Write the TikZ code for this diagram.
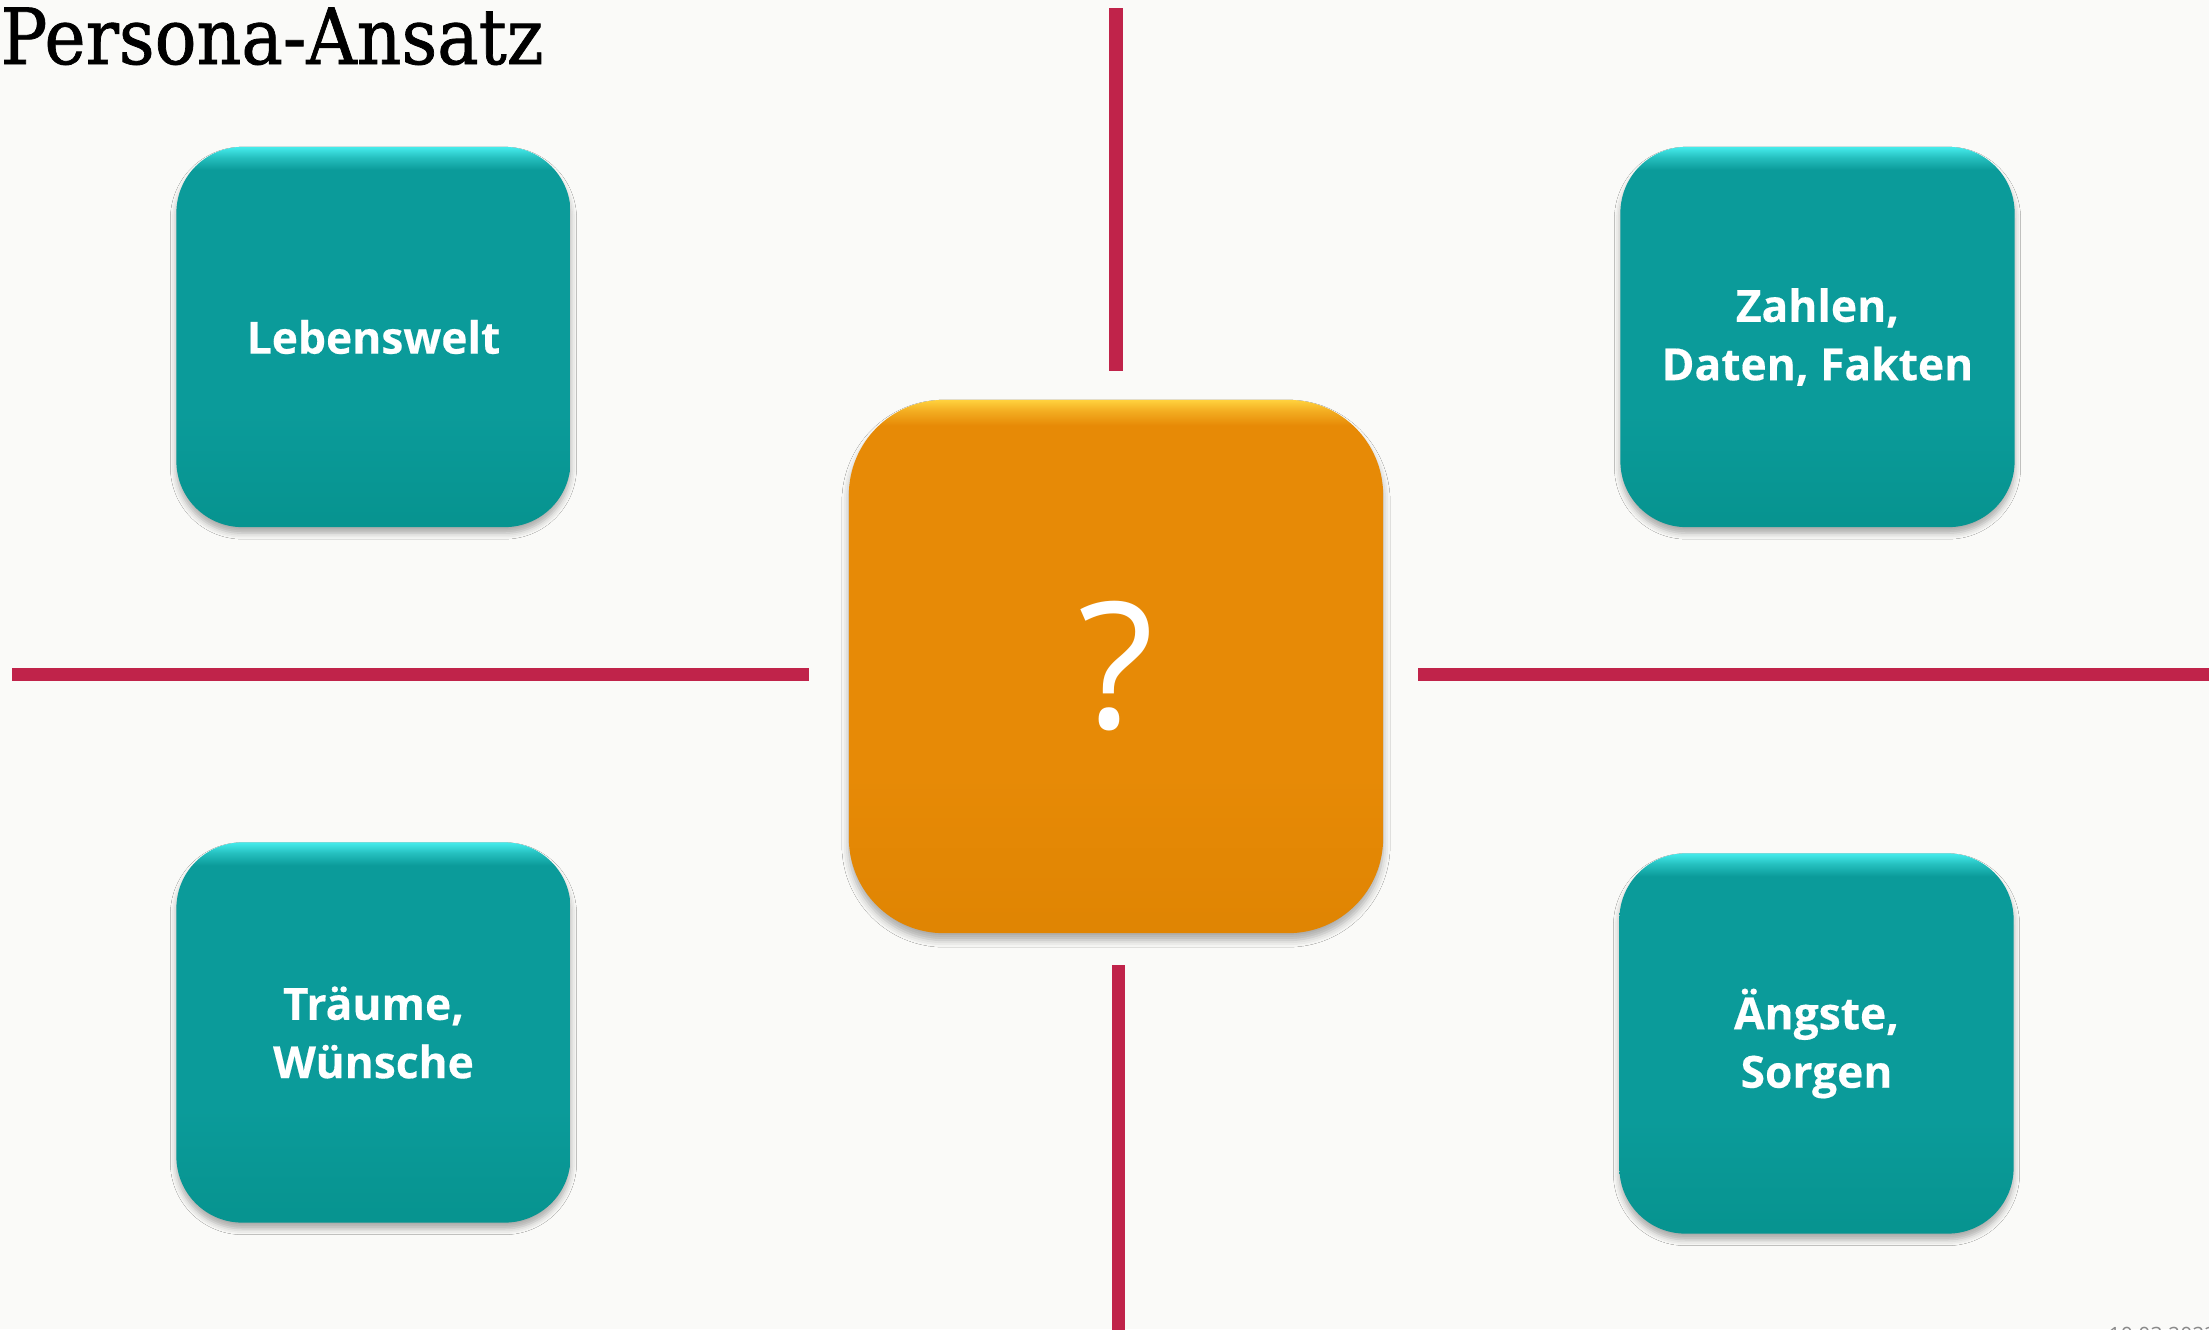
\documentclass[tikz,border=0pt]{standalone}
\usepackage{fontspec}
\setmainfont{Open Sans}[BoldFeatures={FakeBold=0.35}]
\newfontfamily\titlefont[FakeBold=1]{DejaVu Serif}
\usetikzlibrary{shadows.blur}

\definecolor{pagebg}{HTML}{FAFAF8}
\definecolor{divider}{HTML}{C0234A}
\definecolor{tealbox}{HTML}{0B9B9A}
\definecolor{tealtop}{HTML}{45ECEC}
\definecolor{tealdark}{HTML}{079490}
\definecolor{orangebox}{HTML}{E78A06}
\definecolor{orangetop}{HTML}{FFD23E}
\definecolor{orangedark}{HTML}{E08503}
\definecolor{dategray}{HTML}{8A8A8A}

% vertical fills with a bright rim along the top edge
% (the path spans 25bp to 75bp of the shading)
\pgfdeclareverticalshading{tealtile}{100bp}{%
  color(0bp)=(tealdark); color(26bp)=(tealdark); color(40bp)=(tealbox);
  color(72bp)=(tealbox); color(73.6bp)=(tealbox!55!tealtop);
  color(75bp)=(tealtop); color(100bp)=(tealtop)}
\pgfdeclareverticalshading{orangetile}{100bp}{%
  color(0bp)=(orangedark); color(26bp)=(orangedark); color(40bp)=(orangebox);
  color(72.6bp)=(orangebox); color(74bp)=(orangebox!50!orangetop);
  color(75bp)=(orangetop); color(100bp)=(orangetop)}

\tikzset{
  tile/.style={rectangle, rounded corners=0.66cm, inner sep=0pt,
    minimum width=3.94cm, minimum height=3.80cm,
    shading=tealtile,
    text=white, align=center,
    font=\bfseries\fontsize{12.6}{16.6}\selectfont,
    blur shadow={shadow xshift=0pt, shadow yshift=-0.06cm,
      shadow opacity=32, shadow blur radius=0.06cm}},
  centertile/.style={rectangle, rounded corners=0.95cm, inner sep=0pt,
    minimum width=5.34cm, minimum height=5.33cm,
    shading=orangetile,
    text=white, font=\fontsize{50}{60}\selectfont,
    blur shadow={shadow xshift=0pt, shadow yshift=-0.07cm,
      shadow opacity=32, shadow blur radius=0.07cm}},
  sepline/.style={draw=divider, line width=0.135cm}
}

\begin{document}
\begin{tikzpicture}[x=0.01cm, y=-0.01cm]
  % page background and fixed frame
  \fill[pagebg] (0,0) rectangle (2209,1329);
  \useasboundingbox (0,0) rectangle (2209,1329);

  % title
  \node[anchor=base west, inner sep=0pt, xscale=0.9,
        font=\titlefont\fontsize{22}{26}\selectfont] (title) at (0,64) {Persona-Ansatz};

  % dividing lines
  \coordinate (vt1) at (1116,8);    \coordinate (vt2) at (1116,371);
  \coordinate (vb1) at (1118.5,965); \coordinate (vb2) at (1118.5,1340);
  \coordinate (hl1) at (12,674.5);  \coordinate (hl2) at (809,674.5);
  \coordinate (hr1) at (1418,674.5); \coordinate (hr2) at (2220,674.5);
  \draw[sepline] (vt1) -- (vt2);
  \draw[sepline] (vb1) -- (vb2);
  \draw[sepline] (hl1) -- (hl2);
  \draw[sepline] (hr1) -- (hr2);

  % four topic tiles
  \node[tile] (leben)  at (373.5,337)  {Lebenswelt};
  \node[tile] (zahlen) at (1817.5,337) {Zahlen,\\Daten, Fakten};
  \node[tile] (traum)  at (373.5,1032.5) {Träume,\\Wünsche};
  \node[tile] (angst)  at (1816.5,1043.5) {Ängste,\\Sorgen};

  % central tile
  \node[centertile] (persona) at (1116,666.5) {?};

  % date in the footer, cut by the page edge
  \node[anchor=north west, inner sep=0pt, text=dategray,
        font=\fontsize{6}{7}\selectfont] (date) at (2108,1326) {10.03.2023};
\end{tikzpicture}
\end{document}
